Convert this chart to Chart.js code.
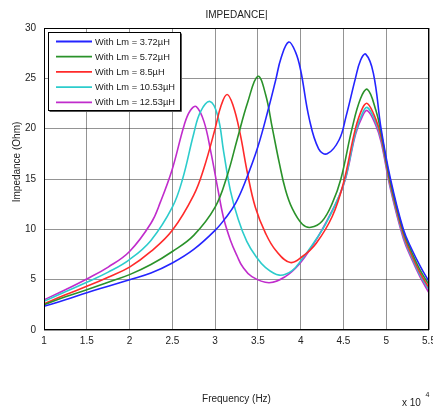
<!DOCTYPE html>
<html>
<head>
<meta charset="utf-8">
<script src="https://cdn.jsdelivr.net/npm/chart.js@4/dist/chart.umd.min.js"></script>
<style>
  html, body { margin: 0; padding: 0; background: #fff; }
</style>
</head>
<body>
<canvas id="impedanceChart" width="433" height="408"></canvas>
<script>
// values (frequency in units of 1e4 Hz, impedance in Ohm)
const freqLm372 = [1, 1.25, 1.5, 1.75, 2, 2.25, 2.5, 2.75, 3, 3.12, 3.24, 3.36, 3.5, 3.63, 3.71, 3.77, 3.86, 3.94, 4, 4.1, 4.21, 4.31, 4.45, 4.53, 4.64, 4.7, 4.76, 4.85, 4.94, 5.05, 5.2, 5.3, 5.4, 5.5]
const zLm372 = [2.35, 3.0, 3.7, 4.35, 5.0, 5.66, 6.65, 8.0, 9.9, 11.1, 12.6, 14.9, 18.2, 22.2, 24.9, 27.0, 28.6, 27.6, 25.8, 21.0, 18.0, 17.5, 18.9, 21.2, 25.0, 26.8, 27.4, 25.5, 20.0, 15.0, 10.0, 8.0, 6.3, 4.8]

const freqLm572 = [1, 1.25, 1.5, 1.75, 2, 2.25, 2.5, 2.75, 3, 3.14, 3.26, 3.38, 3.5, 3.59, 3.67, 3.75, 3.82, 3.9, 4.02, 4.12, 4.25, 4.37, 4.47, 4.6, 4.7, 4.78, 4.88, 4.94, 5.05, 5.2, 5.3, 5.4, 5.5]
const zLm572 = [2.5, 3.3, 4.0, 4.75, 5.5, 6.5, 7.8, 9.4, 12.2, 15.3, 19.0, 22.6, 25.2, 23.4, 20.0, 16.6, 14.0, 12.1, 10.5, 10.2, 10.8, 12.6, 15.0, 20.0, 23.0, 23.9, 21.8, 19.6, 14.7, 9.8, 7.7, 5.9, 4.5]

const freqLm85 = [1, 1.25, 1.5, 1.75, 2, 2.25, 2.5, 2.75, 2.87, 3, 3.07, 3.14, 3.21, 3.29, 3.38, 3.47, 3.59, 3.71, 3.88, 4.02, 4.18, 4.37, 4.5, 4.64, 4.72, 4.78, 4.88, 4.94, 5.05, 5.2, 5.3, 5.4, 5.5]
const zLm85 = [2.6, 3.5, 4.34, 5.25, 6.25, 7.8, 9.9, 13.4, 16.1, 20.0, 22.3, 23.4, 22.3, 19.6, 15.5, 12.2, 9.6, 7.9, 6.7, 7.3, 8.6, 11.3, 14.6, 20.0, 22.0, 22.5, 20.9, 19.2, 14.4, 9.5, 7.4, 5.6, 4.2]

const freqLm1053 = [1, 1.25, 1.5, 1.75, 2, 2.25, 2.5, 2.62, 2.75, 2.83, 2.94, 3.03, 3.1, 3.18, 3.27, 3.37, 3.47, 3.59, 3.75, 3.9, 4.02, 4.14, 4.29, 4.45, 4.53, 4.64, 4.72, 4.78, 4.88, 4.94, 5.05, 5.2, 5.3, 5.4, 5.5]
const zLm1053 = [2.85, 3.8, 4.74, 5.75, 7.0, 8.9, 12.2, 15.0, 19.5, 21.7, 22.7, 21.3, 17.7, 13.8, 11.0, 8.8, 7.4, 6.2, 5.45, 5.9, 7.1, 8.5, 10.5, 13.3, 15.3, 19.6, 21.5, 22.1, 20.6, 19.0, 14.2, 9.3, 7.2, 5.4, 4.0]

const freqLm1253 = [1, 1.25, 1.5, 1.75, 2, 2.25, 2.36, 2.5, 2.64, 2.71, 2.78, 2.87, 2.95, 3.03, 3.1, 3.18, 3.26, 3.32, 3.43, 3.63, 3.82, 3.98, 4.14, 4.29, 4.45, 4.53, 4.64, 4.72, 4.78, 4.88, 4.94, 5.05, 5.2, 5.3, 5.4, 5.5]
const zLm1253 = [3.0, 4.0, 5.07, 6.25, 7.8, 10.6, 12.7, 16.0, 20.4, 21.8, 22.2, 20.7, 17.7, 14.1, 11.1, 8.9, 7.3, 6.3, 5.3, 4.7, 5.3, 6.5, 8.4, 10.6, 13.3, 15.2, 19.4, 21.2, 21.8, 20.3, 18.7, 14.0, 9.1, 7.0, 5.2, 3.7]

const seriesLabels = ['With Lm = 3.72\u00b5H', 'With Lm = 5.72\u00b5H', 'With Lm = 8.5\u00b5H', 'With Lm = 10.53\u00b5H', 'With Lm = 12.53\u00b5H']
const seriesColours = ['#2424ff', '#2a922a', '#ff2a2a', '#2ccccc', '#c02ccc']
const xTicks = [1, 1.5, 2, 2.5, 3, 3.5, 4, 4.5, 5, 5.5]
const yTicks = [0, 5, 10, 15, 20, 25, 30]

const fontFamily = "'Liberation Sans', Arial, sans-serif"
const textColour = '#222'

function toPoints(freqs, values) {
  return freqs.map((f, i) => ({ x: f, y: values[i] }))
}

function makeDataset(label, colour, freqs, values) {
  return {
    label: label,
    data: toPoints(freqs, values),
    borderColor: colour,
    backgroundColor: colour,
    borderWidth: 1.6,
    pointRadius: 0,
    tension: 0.4,
    fill: false
  }
}

// frame, legend box, rotated y title and the "x 10^4" multiplier
const plotExtras = {
  id: 'plotExtras',
  afterDraw(chart) {
    const ctx = chart.ctx
    const a = chart.chartArea
    ctx.save()

    ctx.strokeStyle = '#000'
    ctx.lineWidth = 1
    ctx.strokeRect(a.left + 0.5, a.top + 0.5, a.right - a.left - 1, a.bottom - a.top - 1)

    // legend
    const box = { x: 48.5, y: 32.5, w: 132, h: 78 }
    ctx.fillStyle = '#fff'
    ctx.fillRect(box.x, box.y, box.w, box.h)
    ctx.strokeStyle = '#555'
    ctx.beginPath()
    ctx.moveTo(box.x + box.w + 1, box.y + 1)
    ctx.lineTo(box.x + box.w + 1, box.y + box.h + 1)
    ctx.lineTo(box.x + 1, box.y + box.h + 1)
    ctx.stroke()
    ctx.strokeStyle = '#000'
    ctx.strokeRect(box.x, box.y, box.w, box.h)

    ctx.font = '9.3px ' + fontFamily
    ctx.textAlign = 'left'
    ctx.textBaseline = 'middle'
    seriesLabels.forEach((label, i) => {
      const y = 41.5 + i * 15.2
      ctx.strokeStyle = seriesColours[i]
      ctx.lineWidth = 1.8
      ctx.beginPath()
      ctx.moveTo(56, y)
      ctx.lineTo(92, y)
      ctx.stroke()
      ctx.fillStyle = textColour
      ctx.fillText(label, 95, y + 0.5)
    })

    // y axis title
    ctx.save()
    ctx.translate(17, 162)
    ctx.rotate(-Math.PI / 2)
    ctx.font = '10px ' + fontFamily
    ctx.textAlign = 'center'
    ctx.textBaseline = 'middle'
    ctx.fillStyle = textColour
    ctx.fillText('Impedance (Ohm)', 0, 0)
    ctx.restore()

    // exponent
    ctx.fillStyle = textColour
    ctx.textAlign = 'left'
    ctx.textBaseline = 'middle'
    ctx.font = '10px ' + fontFamily
    ctx.fillText('x 10', 402, 403)
    ctx.font = '7px ' + fontFamily
    ctx.fillText('4', 425.5, 395)

    ctx.restore()
  }
}

const datasets = [
  makeDataset(seriesLabels[0], seriesColours[0], freqLm372, zLm372),
  makeDataset(seriesLabels[1], seriesColours[1], freqLm572, zLm572),
  makeDataset(seriesLabels[2], seriesColours[2], freqLm85, zLm85),
  makeDataset(seriesLabels[3], seriesColours[3], freqLm1053, zLm1053),
  makeDataset(seriesLabels[4], seriesColours[4], freqLm1253, zLm1253)
]

new Chart(document.getElementById('impedanceChart'), {
  type: 'line',
  data: { datasets: datasets },
  options: {
    responsive: false,
    animation: false,
    devicePixelRatio: 1,
    layout: { padding: { left: 0, right: 4, top: 0, bottom: 0 } },
    font: { family: fontFamily },
    plugins: {
      legend: { display: false },
      tooltip: { enabled: false },
      title: {
        display: true,
        text: 'IMPEDANCE|',
        fullSize: false,
        color: textColour,
        font: { family: fontFamily, size: 10, weight: 'normal', lineHeight: 1.2 },
        padding: { top: 9, bottom: 7 }
      }
    },
    scales: {
      x: {
        type: 'linear',
        min: 1,
        max: 5.5,
        afterBuildTicks: s => { s.ticks = xTicks.map(v => ({ value: v })) },
        afterFit: s => { s.height = 78; s.paddingLeft = 0; s.paddingRight = 0 },
        ticks: {
          color: textColour,
          padding: 5,
          maxRotation: 0,
          autoSkip: false,
          font: { family: fontFamily, size: 10 },
          callback: v => String(v)
        },
        grid: { color: 'rgba(0,0,0,0.42)', lineWidth: 1, drawTicks: false },
        border: { display: false },
        title: {
          display: true,
          text: 'Frequency (Hz)',
          color: textColour,
          font: { family: fontFamily, size: 10 },
          padding: { top: 0, bottom: 3 }
        }
      },
      y: {
        min: 0,
        max: 30,
        afterBuildTicks: s => { s.ticks = yTicks.map(v => ({ value: v })) },
        afterFit: s => { s.width = 44; s.paddingTop = 0; s.paddingBottom = 0 },
        ticks: {
          color: textColour,
          padding: 8,
          font: { family: fontFamily, size: 10 },
          callback: v => String(v)
        },
        grid: { color: 'rgba(0,0,0,0.42)', lineWidth: 1, drawTicks: false },
        border: { display: false }
      }
    }
  },
  plugins: [plotExtras]
})
</script>
</body>
</html>
